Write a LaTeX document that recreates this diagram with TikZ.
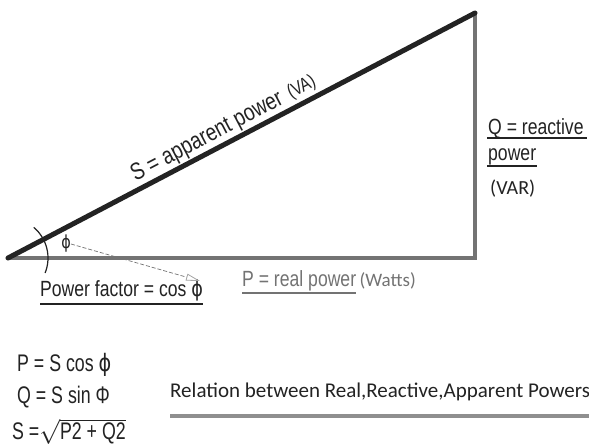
\documentclass[tikz,border=0pt]{standalone}
\usepackage{fontspec}
\usetikzlibrary{positioning, arrows.meta, calc}
\newfontfamily\narrowsf[FakeStretch=0.8]{Liberation Sans}
\newfontfamily\tallsf[FakeStretch=0.74]{Liberation Sans}
\newfontfamily\phisf[FakeStretch=0.8]{DejaVu Sans}
\newfontfamily\calibsf{Carlito}
\newcommand{\phiglyph}{{\phisf ϕ}}
\definecolor{inkdark}{RGB}{35,35,35}
\definecolor{inkgray}{RGB}{115,115,115}
\definecolor{tipgray}{RGB}{165,165,165}

\begin{document}
\begin{tikzpicture}[>=stealth, x=1pt, y=-1pt,
    lbl/.style={font=\narrowsf\fontsize{22}{24}\selectfont, text=inkdark, inner sep=0pt, anchor=base west},
    eqn/.style={lbl, font=\tallsf\fontsize{24}{26}\selectfont},
    note/.style={font=\calibsf\fontsize{20}{24}\selectfont, text=inkdark, inner sep=0pt, anchor=base west}]
    \useasboundingbox[fill=white] (0,0) rectangle (589,445);
    % power triangle
    \coordinate (O) at (8,258);
    \coordinate (R) at (475,258);
    \coordinate (T) at (475,13);
    \draw[inkgray, line width=4pt] (O) -- (R) -- (T);
    \draw[inkdark, line width=5pt, line cap=round] (O) -- (T)
        node[pos=0.275, sloped, lbl, font=\narrowsf\fontsize{24}{26}\selectfont, anchor=south west, inner sep=1pt] (sl) {S = apparent power}
        node[pos=0.605, sloped, lbl, font=\narrowsf\fontsize{19}{22}\selectfont, anchor=south west, inner sep=3pt] (va) {(VA)};
    % angle and power factor
    \draw[inkdark, line width=1.2pt] (O) ++(-50:40) arc[start angle=-50, end angle=22, radius=40];
    \node[lbl, anchor=center, font=\narrowsf\fontsize{18}{20}\selectfont] (phi) at (66,244) {\phiglyph};
    \node[lbl] (pf) at (40,296) {Power factor = cos \phiglyph};
    \draw[inkdark, line width=1.3pt] ($(pf.base west)+(0,8)$) -- ($(pf.base east)+(0,8)$);
    \coordinate (pftip) at (200,281);
    \draw[inkgray, line width=0.7pt, dash pattern=on 4pt off 2pt,
        -{Triangle[open, length=14pt, width=7pt, color=tipgray, line width=0.8pt]}] (phi.east) -- (pftip);
    % real power
    \node[lbl, text=inkgray] (pr) at (242,286) {P = real power};
    \draw[inkgray, line width=1.2pt] ($(pr.base west)+(0,7)$) -- ($(pr.base east)+(0,7)$);
    \node[note, text=inkgray, font=\calibsf\fontsize{19}{22}\selectfont, right=3pt of pr.base east, anchor=base west] (watts) {(Watts)};
    % reactive power
    \node[lbl] (qr) at (488,134) {Q = reactive};
    \draw[inkdark, line width=1.8pt] ($(qr.base west)+(-1,4)$) -- ($(qr.base east)+(3,4)$);
    \node[lbl] (qp) at (488,160) {power};
    \draw[inkdark, line width=1.8pt] ($(qp.base west)+(-1,6)$) -- ($(qp.base east)+(1,6)$);
    \node[note] (var) at (490,194) {(VAR)};
    % relations
    \node[eqn] (eqp) at (17,371) {P = S cos \phiglyph};
    \node[eqn] (eqq) at (17,403) {Q = S sin Φ};
    \node[eqn] (eqs) at (12,439) {S =\(\sqrt{\mbox{P2 + Q2}}\)};
    \node[note, font=\calibsf\fontsize{21}{24}\selectfont] (rel) at (170,397) {Relation between Real,Reactive,Apparent Powers};
    \draw[inkgray!80, line width=4pt] ($(rel.base west)+(0,19)$) -- ($(rel.base east)+(0,19)$);
\end{tikzpicture}
\end{document}
